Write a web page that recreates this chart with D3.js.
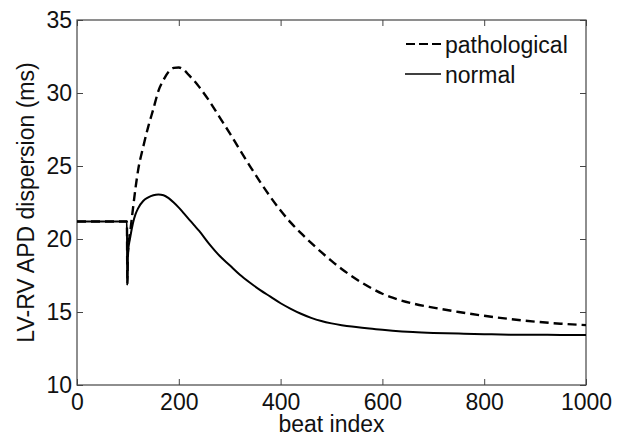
<!doctype html>
<html>
  <head>
    <script src="https://d3js.org/d3.v7.min.js"></script>
    <style>
      body { margin: 0; background: #fff; }
      text { font-family: "Liberation Sans", Arial, sans-serif; fill: #111; }
    </style>
  </head>

  <body>
    <svg class="chart" width=628 height=438></svg>

    <script>
      // beat index / dispersion values
      var beats  = [0, 98, 99, 100, 105, 110, 115, 120, 130, 140, 150, 160, 170, 180, 190, 200, 210, 220, 230, 240, 260, 280, 300, 320, 340, 360, 380, 400, 420, 440, 460, 480, 500, 520, 540, 560, 580, 600, 620, 660, 700, 750, 800, 850, 900, 950, 1000];
      var normal = [21.2, 21.2, 16.9, 19.0, 20.2, 21.1, 21.7, 22.1, 22.6, 22.85, 23.0, 23.05, 23.0, 22.8, 22.5, 22.15, 21.75, 21.35, 20.95, 20.55, 19.65, 18.85, 18.2, 17.55, 17.0, 16.5, 16.05, 15.6, 15.22, 14.88, 14.6, 14.38, 14.22, 14.1, 14.0, 13.92, 13.85, 13.78, 13.72, 13.63, 13.57, 13.52, 13.48, 13.45, 13.44, 13.43, 13.42];
      var pathol = [21.2, 21.2, 16.9, 19.0, 20.6, 22.1, 23.5, 24.7, 26.3, 27.7, 28.9, 30.15, 30.9, 31.45, 31.72, 31.75, 31.58, 31.22, 30.85, 30.42, 29.45, 28.35, 27.25, 26.1, 24.98, 23.9, 22.88, 21.95, 21.12, 20.4, 19.73, 19.1, 18.5, 17.95, 17.45, 17.0, 16.6, 16.25, 15.98, 15.58, 15.3, 15.0, 14.74, 14.52, 14.34, 14.2, 14.1];
      var xTicks = [0, 200, 400, 600, 800, 1000];
      var yTicks = [10, 15, 20, 25, 30, 35];
      var labels = ["pathological", "normal"];

      var svg = d3.select("svg"),
        mLeft = 77, mTop = 20, mRight = 586, mBottom = 385;

      var xScale = d3.scaleLinear().domain([0, 1000]).range([mLeft, mRight]);
      var yScale = d3.scaleLinear().domain([10, 35]).range([mBottom, mTop]);

      // axes with inward ticks, mirrored on top and right
      function styleAxis(g) {
        g.select(".domain").remove();
        g.selectAll(".tick line").attr("stroke", "#444");
        g.selectAll(".tick text").style("font-size", "23px").attr("fill", "#111");
      }
      svg.append("g").attr("transform", "translate(0," + mBottom + ")")
        .call(d3.axisBottom(xScale).tickValues(xTicks).tickSize(-6).tickPadding(9).tickFormat(d3.format("d")))
        .call(styleAxis);
      svg.append("g").attr("transform", "translate(" + mLeft + ",0)")
        .call(d3.axisLeft(yScale).tickValues(yTicks).tickSize(-6).tickPadding(5).tickFormat(d3.format("d")))
        .call(styleAxis);
      svg.append("g").attr("transform", "translate(0," + mTop + ")")
        .call(d3.axisTop(xScale).tickValues(xTicks).tickSize(-6).tickFormat(""))
        .call(styleAxis);
      svg.append("g").attr("transform", "translate(" + mRight + ",0)")
        .call(d3.axisRight(yScale).tickValues(yTicks).tickSize(-6).tickFormat(""))
        .call(styleAxis);

      svg.append("rect")
        .attr("x", mLeft).attr("y", mTop)
        .attr("width", mRight - mLeft).attr("height", mBottom - mTop)
        .attr("fill", "none").attr("stroke", "#444").attr("stroke-width", 1.2);

      var line = function(vals) {
        return d3.line()
          .x(function(d, i){ return xScale(beats[i]); })
          .y(function(d){ return yScale(d); })
          .curve(d3.curveMonotoneX)(vals);
      };

      svg.append("path").attr("d", line(pathol))
        .attr("fill", "none").attr("stroke", "#000")
        .attr("stroke-width", 2.4).attr("stroke-dasharray", "9,5");
      svg.append("path").attr("d", line(normal))
        .attr("fill", "none").attr("stroke", "#000")
        .attr("stroke-width", 2);

      // legend
      var leg = svg.append("g");
      leg.append("line").attr("x1", 406).attr("x2", 443).attr("y1", 44).attr("y2", 44)
        .attr("stroke", "#000").attr("stroke-width", 2).attr("stroke-dasharray", "9,4");
      leg.append("line").attr("x1", 405).attr("x2", 441).attr("y1", 74).attr("y2", 74)
        .attr("stroke", "#000").attr("stroke-width", 1.6);
      leg.selectAll("text.leg").data(labels).enter().append("text")
        .attr("class", "leg")
        .attr("x", 445).attr("y", function(d, i){ return 53 + i * 30; })
        .style("font-size", "23px")
        .text(function(d){ return d; });

      svg.append("text")
        .attr("x", (mLeft + mRight) / 2).attr("y", 432)
        .attr("text-anchor", "middle").style("font-size", "23px")
        .text("beat index");

      svg.append("text")
        .attr("transform", "translate(34," + (mTop + mBottom) / 2 + ") rotate(-90)")
        .attr("text-anchor", "middle").style("font-size", "23px")
        .text("LV-RV APD dispersion (ms)");
    </script>
  </body>
</html>
